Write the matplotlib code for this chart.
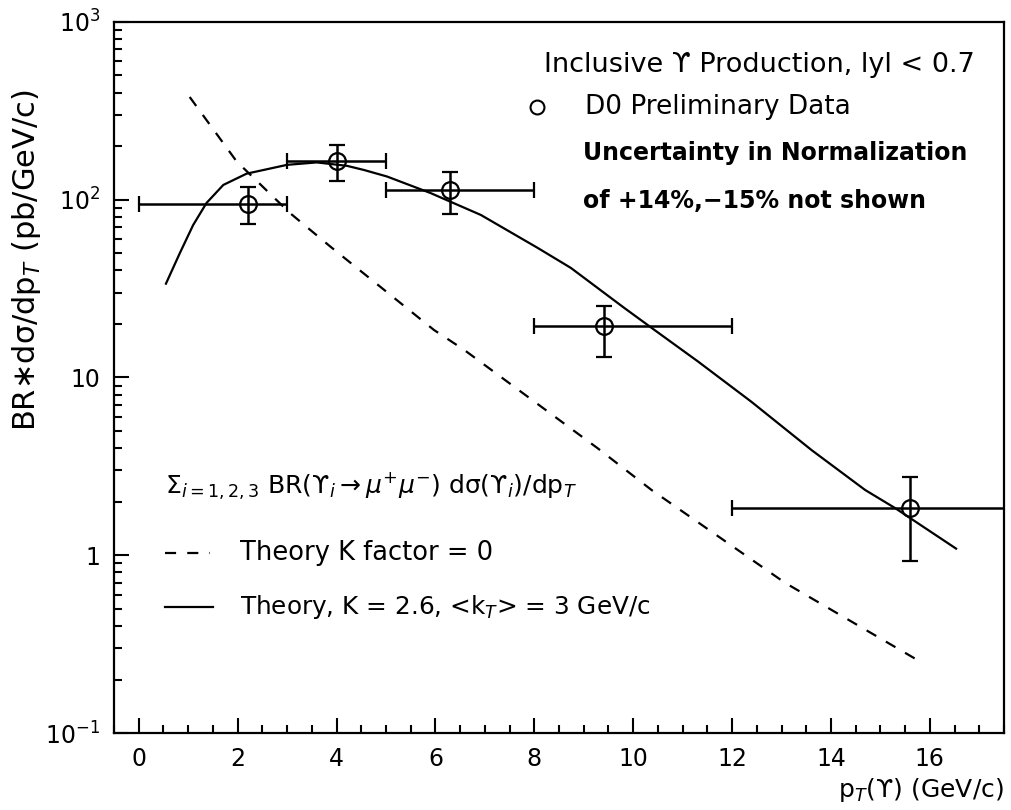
import numpy as np
import matplotlib
matplotlib.use("Agg")
import matplotlib.pyplot as plt
from matplotlib.ticker import MultipleLocator, LogLocator, FixedLocator, FixedFormatter, NullFormatter

# D0 preliminary data points
pt = [2.2, 4.0, 6.3, 9.4, 15.6]
xsec = [95, 166, 114, 19.4, 1.85]
bin_lo = [0, 3, 5, 8, 12]
bin_hi = [3, 5, 8, 12, 20]
xsec_hi = [118, 202, 144, 25.3, 2.77]
xsec_lo = [73, 128, 83, 13.1, 0.93]

# theory, K = 2.6, <kT> = 3 GeV/c (solid)
kt_pt = [0.55, 0.83, 1.1, 1.37, 1.71, 2.18, 3.0, 3.6, 4.21, 4.55, 5.02, 5.9,
         6.92, 8.07, 8.74, 9.82, 10.43, 11.31, 12.39, 13.61, 14.69, 15.3, 16.53]
kt_val = [33.7, 50, 72, 95.8, 121, 140, 157, 162, 155, 147, 135, 109,
          82, 53.5, 41.3, 24.6, 18.5, 12.3, 7.3, 3.9, 2.33, 1.84, 1.09]

# theory, K factor = 0 (dashed)
k0_pt = [1.03, 1.98, 3.06, 3.87, 5.97, 6.58, 9.28, 10.37, 13.07, 15.86]
k0_val = [378, 164, 84, 54.6, 18.5, 14.3, 4.0, 2.33, 0.70, 0.247]

ytick_vals = [0.1, 1, 10, 100, 1000]
ytick_labels = ["$10^{-1}$", "1", "10", "$10^{2}$", "$10^{3}$"]
xtick_vals = [0, 2, 4, 6, 8, 10, 12, 14, 16]

plt.rcParams["font.family"] = ["DejaVu Sans"]
plt.rcParams["mathtext.fontset"] = "dejavusans"

fig = plt.figure(figsize=(10.11, 8.10), dpi=100)
ax = fig.add_axes([0.1128, 0.095, 0.8803, 0.878])

ax.plot(k0_pt, k0_val, color="black", lw=1.6, dashes=(5, 5))
ax.plot(kt_pt, kt_val, color="black", lw=1.6)

pt_a = np.array(pt)
xs = np.array(xsec)
xerr = [pt_a - np.array(bin_lo), np.array(bin_hi) - pt_a]
yerr = [xs - np.array(xsec_lo), np.array(xsec_hi) - xs]
ax.errorbar(pt, xsec, xerr=xerr, yerr=yerr, fmt="o", color="black",
            mfc="none", mec="black", ms=12, mew=1.6, elinewidth=1.8,
            capsize=6, capthick=1.8)

ax.set_yscale("log")
ax.set_xlim(-0.5, 17.5)
ax.set_ylim(0.1, 1000)

ax.yaxis.set_major_locator(FixedLocator(ytick_vals))
ax.yaxis.set_major_formatter(FixedFormatter(ytick_labels))
ax.yaxis.set_minor_locator(LogLocator(base=10, subs=np.arange(2, 10)))
ax.yaxis.set_minor_formatter(NullFormatter())
ax.xaxis.set_major_locator(FixedLocator(xtick_vals))
ax.xaxis.set_minor_locator(MultipleLocator(0.5))

ax.tick_params(which="both", direction="in", top=False, right=False, width=1.5)
ax.tick_params(which="major", length=11, labelsize=17, pad=10)
ax.tick_params(which="minor", length=5.5)
for s in ax.spines.values():
    s.set_linewidth(1.6)

ax.set_ylabel("BR∗dσ/dp$_{T}$ (pb/GeV/c)", fontsize=22)
ax.yaxis.set_label_coords(-0.08, 0.665)
ax.set_xlabel("p$_{T}$(ϒ) (GeV/c)", fontsize=18, loc="right", labelpad=4)

tr = ax.transAxes
ax.text(0.967, 0.9395, "Inclusive ϒ Production, lyl < 0.7", transform=tr,
        ha="right", va="center", fontsize=19.5)
ax.plot([0.475], [0.880], "o", mfc="none", mec="black", ms=10, mew=1.5,
        transform=tr)
ax.text(0.529, 0.880, "D0 Preliminary Data", transform=tr,
        ha="left", va="center", fontsize=19)
ax.text(0.527, 0.8158, "Uncertainty in Normalization", transform=tr,
        ha="left", va="center", fontsize=17, fontweight="bold")
ax.text(0.527, 0.748, "of +14%,−15% not shown", transform=tr,
        ha="left", va="center", fontsize=17, fontweight="bold")

ax.text(0.0573, 0.347,
        r"$\Sigma_{i=1,2,3}$ BR(ϒ$_{i}$$\rightarrow$$\mu^{+}\mu^{-}$) dσ(ϒ$_{i}$)/dp$_{T}$",
        transform=tr, ha="left", va="center", fontsize=18)
ax.plot([0.0573, 0.108], [0.253, 0.253], color="black", lw=1.6, dashes=(5, 5),
        transform=tr)
ax.text(0.1416, 0.253, "Theory K factor = 0", transform=tr,
        ha="left", va="center", fontsize=18.5)
ax.plot([0.0573, 0.111], [0.177, 0.177], color="black", lw=1.6, transform=tr)
ax.text(0.1416, 0.177, "Theory, K = 2.6, <k$_{T}$> = 3 GeV/c", transform=tr,
        ha="left", va="center", fontsize=17.8)

fig.savefig("out.png", dpi=100)
